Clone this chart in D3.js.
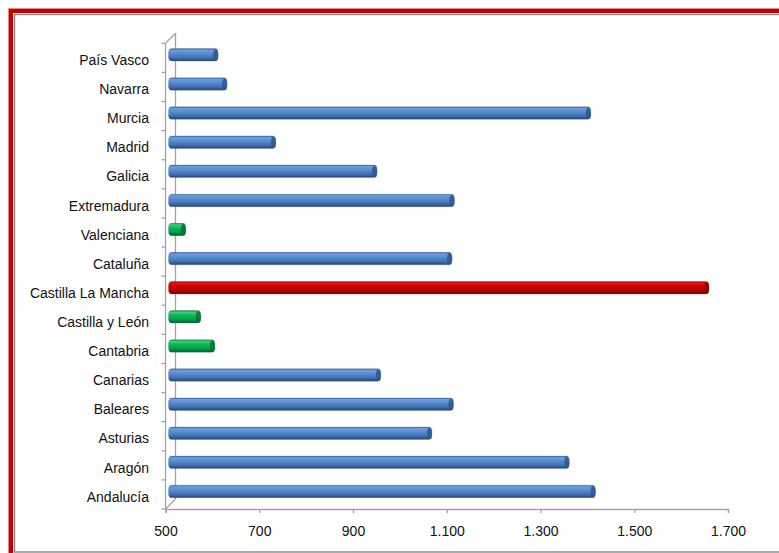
<!DOCTYPE html>
<html>
<head>
<meta charset="utf-8">
<script src="https://cdn.jsdelivr.net/npm/d3@7"></script>
<style>
  html, body { margin: 0; padding: 0; background: #fff; }
  svg { display: block; font-family: "Liberation Sans", Arial, sans-serif; }
</style>
</head>
<body>
<svg id="chart" width="779" height="553"></svg>
<script>
// Regions, listed from top to bottom as drawn
const regions = [
  "País Vasco", "Navarra", "Murcia", "Madrid", "Galicia", "Extremadura",
  "Valenciana", "Cataluña", "Castilla La Mancha", "Castilla y León",
  "Cantabria", "Canarias", "Baleares", "Asturias", "Aragón", "Andalucía"
];
const values = [
  606, 625, 1401, 729, 945, 1110,
  537, 1105, 1653, 569,
  599, 953, 1108, 1062, 1355, 1411
];
const xTicks = [500, 700, 900, 1100, 1300, 1500, 1700];
const highestRegion = "Castilla La Mancha";
const lowestRegions = ["Valenciana", "Castilla y León", "Cantabria"];

const data = regions.map((r, i) => ({ region: r, value: values[i] }));

const es = d3.formatLocale({ decimal: ",", thousands: ".", grouping: [3], currency: ["", " €"] });
const fmt = es.format(",.0f");

const svg = d3.select("#chart");

// Frame: red outer band with a thin grey inner border
svg.append("rect").attr("x", 10.5).attr("y", 10.5).attr("width", 1000).attr("height", 1000)
  .attr("fill", "none").attr("stroke", "#c40000").attr("stroke-width", 5);
svg.append("rect").attr("x", 8.5).attr("y", 8.5).attr("width", 1000).attr("height", 1000)
  .attr("fill", "none").attr("stroke", "#e48a8a").attr("stroke-width", 1);
svg.append("rect").attr("x", 14.5).attr("y", 14.5).attr("width", 800).attr("height", 537.5)
  .attr("fill", "none").attr("stroke", "#8f8f8f").attr("stroke-width", 1.5);

// Scales
const x = d3.scaleLinear().domain([500, 1700]).range([165.5, 728]);
const y = d3.scaleBand().domain(regions).range([43.3, 509]).padding(0);

// 3D depth offsets of the back wall and the bars
const depth = { dx: 10, dy: -10 };
const barShift = { dx: 3, dy: -3 };
const barH = 12.5;
const axisColor = "#a3a3a3";

// Back wall and floor edges
const top0 = y.range()[0], bot0 = y.range()[1], x0 = x(500);
const walls = svg.append("g").attr("stroke", axisColor).attr("stroke-width", 1.3).attr("fill", "none");
walls.append("line").attr("x1", x0 + depth.dx).attr("x2", x0 + depth.dx)
  .attr("y1", top0 + depth.dy).attr("y2", bot0 + depth.dy);
walls.append("line").attr("x1", x0).attr("y1", top0).attr("x2", x0 + depth.dx).attr("y2", top0 + depth.dy);
walls.append("line").attr("x1", x0).attr("y1", bot0).attr("x2", x0 + depth.dx).attr("y2", bot0 + depth.dy);

// Front category axis with ticks at band boundaries
const yAxis = svg.append("g").attr("stroke", axisColor).attr("stroke-width", 1.3);
yAxis.append("line").attr("x1", x0).attr("x2", x0).attr("y1", top0).attr("y2", bot0);
const bounds = regions.map(r => y(r)).concat([bot0]);
yAxis.selectAll("line.tick").data(bounds).join("line").attr("class", "tick")
  .attr("x1", x0 - 4).attr("x2", x0).attr("y1", d => d).attr("y2", d => d);

// Category labels
svg.append("g").selectAll("text").data(regions).join("text")
  .attr("x", 149)
  .attr("y", d => y(d) + y.bandwidth() / 2 + 2.2)
  .attr("text-anchor", "end")
  .attr("dominant-baseline", "central")
  .attr("font-size", 14)
  .attr("fill", "#111")
  .text(d => d);

// Value axis
const xAxisG = svg.append("g").attr("transform", `translate(0,${bot0})`)
  .call(d3.axisBottom(x).tickValues(xTicks).tickSize(4).tickPadding(13).tickFormat(fmt));
xAxisG.select(".domain").attr("stroke", axisColor).attr("stroke-width", 1.3);
xAxisG.selectAll(".tick line").attr("stroke", axisColor).attr("stroke-width", 1.3);
xAxisG.selectAll(".tick text").attr("font-size", 14).attr("fill", "#111")
  .attr("font-family", "Liberation Sans, Arial, sans-serif");

// Cylinder gradients
const defs = svg.append("defs");
const palettes = {
  blue:  [["0%", "#2f5d95"], ["12%", "#6f9ddb"], ["35%", "#5b8ed2"], ["70%", "#4474b6"], ["100%", "#24466f"]],
  red:   [["0%", "#8e0000"], ["12%", "#e01818"], ["35%", "#d00000"], ["70%", "#b80000"], ["100%", "#6e0000"]],
  green: [["0%", "#00773a"], ["12%", "#3bd27a"], ["35%", "#0fba57"], ["70%", "#00a148"], ["100%", "#005f2b"]]
};
const capColors = { blue: "#2d568c", red: "#8a0000", green: "#00703a" };
Object.entries(palettes).forEach(([name, stops]) => {
  const g = defs.append("linearGradient").attr("id", "cyl-" + name)
    .attr("x1", 0).attr("y1", 0).attr("x2", 0).attr("y2", 1);
  stops.forEach(([o, c]) => g.append("stop").attr("offset", o).attr("stop-color", c));
});

const colorOf = d => d.region === highestRegion ? "red" : (lowestRegions.includes(d.region) ? "green" : "blue");

// Bars
const bars = svg.append("g").selectAll("g").data(data).join("g");
bars.append("rect")
  .attr("x", x(500) + barShift.dx)
  .attr("y", d => y(d.region) + y.bandwidth() / 2 + barShift.dy - barH / 2)
  .attr("width", d => x(d.value) - x(500))
  .attr("height", barH)
  .attr("rx", 3).attr("ry", 4)
  .attr("fill", d => `url(#cyl-${colorOf(d)})`)
  .attr("stroke", d => colorOf(d) === "red" ? "rgba(200,60,60,0.35)" : "rgba(80,110,150,0.25)")
  .attr("stroke-width", 1);
bars.append("ellipse")
  .attr("cx", d => x(d.value) + barShift.dx - 2.5)
  .attr("cy", d => y(d.region) + y.bandwidth() / 2 + barShift.dy)
  .attr("rx", 2.5).attr("ry", barH / 2 - 0.5)
  .attr("fill", d => capColors[colorOf(d)])
  .attr("opacity", 0.85);
</script>
</body>
</html>
